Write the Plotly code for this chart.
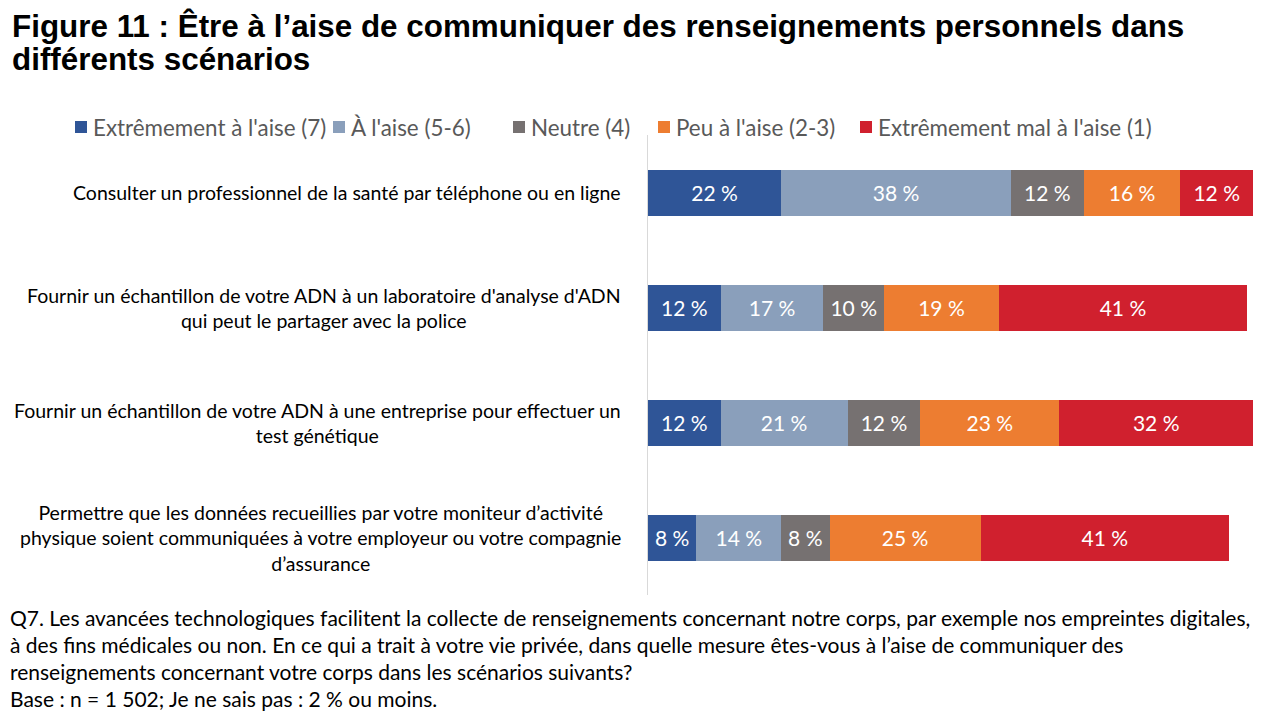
import plotly.graph_objects as go

categories = [
    "Consulter un professionnel de la santé par téléphone ou en ligne",
    "Fournir un échantillon de votre ADN à un laboratoire d'analyse d'ADN<br>qui peut le partager avec la police",
    "Fournir un échantillon de votre ADN à une entreprise pour effectuer un<br>test génétique",
    "Permettre que les données recueillies par votre moniteur d’activité<br>physique soient communiquées à votre employeur ou votre compagnie<br>d’assurance",
]
series_names = [
    "Extrêmement à l'aise (7)",
    "À l'aise (5-6)",
    "Neutre (4)",
    "Peu à l'aise (2-3)",
    "Extrêmement mal à l'aise (1)",
]
extremement = [22, 12, 12, 8]
aise = [38, 17, 21, 14]
neutre = [12, 10, 12, 8]
peu = [16, 19, 23, 25]
mal = [12, 41, 32, 41]
values = [extremement, aise, neutre, peu, mal]
colors = ["#2F5597", "#8A9FBB", "#767171", "#ED7D31", "#D0202E"]

title_lines = [
    "Figure 11 : Être à l’aise de communiquer des renseignements personnels dans",
    "différents scénarios",
]
note_lines = [
    "Q7. Les avancées technologiques facilitent la collecte de renseignements concernant notre corps, par exemple nos empreintes digitales,",
    "à des fins médicales ou non. En ce qui a trait à votre vie privée, dans quelle mesure êtes-vous à l’aise de communiquer des",
    "renseignements concernant votre corps dans les scénarios suivants?",
    "Base : n = 1 502; Je ne sais pas : 2 % ou moins.",
]

FONT = "Lato, 'Open Sans', sans-serif"

# page body has an 8px margin: figure is drawn at (8, 8)
OFF = 8
W, H = 1280 - 2 * OFF, 720 - 2 * OFF
ml = 648 - OFF
mt = 135 - OFF
mr = W - (1253 - OFF)
mb = H - (595 - OFF)
ph = H - mt - mb
pw = W - ml - mr


def px_x(x):
    return (x - OFF - ml) / pw


def px_y(y):
    return (H - mb - (y - OFF)) / ph


fig = go.Figure()
ids = list(range(len(categories)))
for name, vals, col in zip(series_names, values, colors):
    fig.add_trace(go.Bar(
        y=ids, x=vals, name=name, orientation="h",
        marker=dict(color=col, line=dict(width=0)),
        text=[f"{v} %" for v in vals], textposition="inside",
        insidetextanchor="middle", textangle=0,
        textfont=dict(color="white", size=21, family=FONT),
        constraintext="none", hoverinfo="skip", showlegend=False,
    ))

# category labels
for i, c in enumerate(categories):
    fig.add_annotation(
        x=px_x(623), xref="paper", xanchor="right", y=i, yref="y",
        text=c, showarrow=False, align="center",
        font=dict(size=19.5, color="#000000", family=FONT),
    )

# manual legend (single row)
legend_x = [75, 333, 513, 658, 860]
for name, col, lx in zip(series_names, colors, legend_x):
    fig.add_shape(
        type="rect", xref="paper", yref="paper",
        x0=px_x(lx), x1=px_x(lx + 12), y0=px_y(121), y1=px_y(133),
        fillcolor=col, line=dict(width=0),
    )
    fig.add_annotation(
        x=px_x(lx + 16), xref="paper", xanchor="left", y=px_y(127), yref="paper",
        yanchor="middle", text=name, showarrow=False,
        font=dict(size=22.4, color="#595959", family=FONT),
    )

# title
for line, yc in zip(title_lines, [26, 59]):
    fig.add_annotation(
        x=px_x(10), xref="paper", xanchor="left", y=px_y(yc), yref="paper",
        yanchor="middle", text=f"<b>{line}</b>", showarrow=False,
        font=dict(size=31.4, color="#000000", family="Arial, 'Liberation Sans', sans-serif"),
    )

# note
for line, yc in zip(note_lines, [617, 644, 671, 698]):
    fig.add_annotation(
        x=px_x(8), xref="paper", xanchor="left", y=px_y(yc), yref="paper",
        yanchor="middle", text=line, showarrow=False,
        font=dict(size=21, color="#000000", family=FONT),
    )

fig.update_layout(
    width=W, height=H,
    barmode="stack", bargap=0.6,
    margin=dict(l=ml, r=mr, t=mt, b=mb, autoexpand=False),
    plot_bgcolor="white", paper_bgcolor="white",
    showlegend=False,
    xaxis=dict(range=[0, 100], visible=False, fixedrange=True),
    yaxis=dict(range=[3.5, -0.5], showticklabels=False, showgrid=False, zeroline=False,
               showline=True, linecolor="#D9D9D9", linewidth=1, ticks="", fixedrange=True),
)

fig.write_html("out.html")
